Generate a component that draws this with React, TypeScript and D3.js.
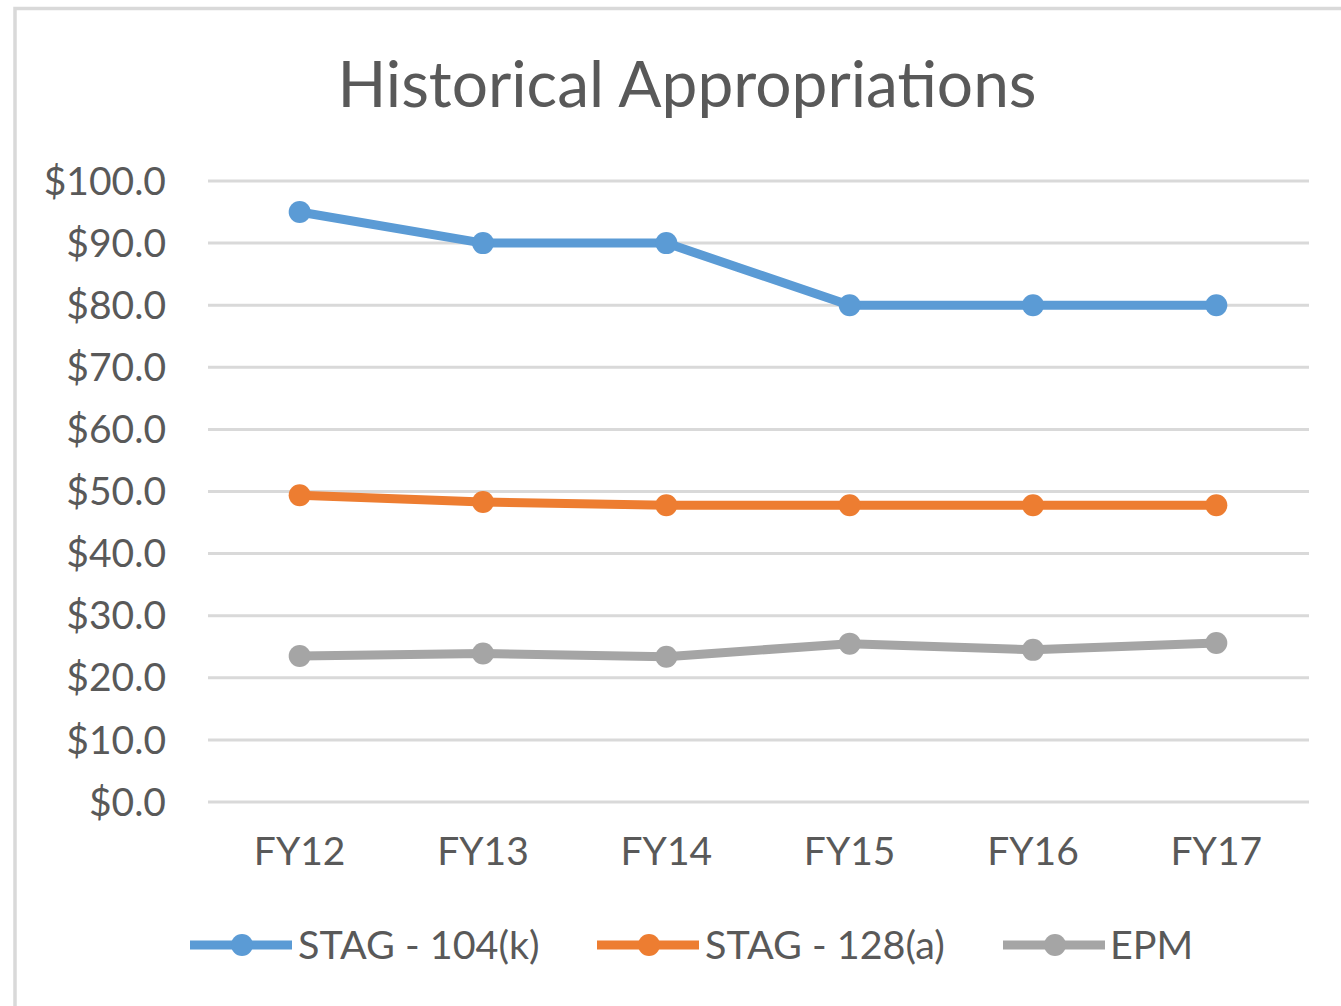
import React from "react";
import * as d3 from "d3";

const categories = ["FY12", "FY13", "FY14", "FY15", "FY16", "FY17"];
const stag104k = [95, 90, 90, 80, 80, 80];
const stag128a = [49.4, 48.3, 47.8, 47.8, 47.8, 47.8];
const epm = [23.5, 23.9, 23.4, 25.5, 24.5, 25.6];
const yTicks = [0, 10, 20, 30, 40, 50, 60, 70, 80, 90, 100];

const seriesList = [
  { name: "STAG - 104(k)", values: stag104k, color: "#5B9BD5" },
  { name: "STAG - 128(a)", values: stag128a, color: "#ED7D31" },
  { name: "EPM", values: epm, color: "#A5A5A5" },
];

const W = 1341;
const H = 1006;
const FONT = "Lato, 'Open Sans', sans-serif";
const TEXT = "#595959";

export default function App() {
  const x = d3.scaleBand<string>().domain(categories).range([208, 1308]);
  const y = d3.scaleLinear().domain([0, 100]).range([802, 181]);
  const cx = (c: string) => (x(c) as number) + x.bandwidth() / 2;
  const line = d3
    .line<number>()
    .x((_, i) => cx(categories[i]))
    .y((d) => y(d));

  const legendItems = [
    { lx: 190, tx: 298 },
    { lx: 597, tx: 705 },
    { lx: 1003, tx: 1110 },
  ];
  const legendY = 945;

  return (
    <svg
      width={W}
      height={H}
      style={{ position: "absolute", left: 0, top: 0, background: "#fff" }}
      fontFamily={FONT}
    >
      <rect x={0} y={0} width={W} height={H} fill="#fff" />
      <rect x={15} y={8.5} width={1500} height={1200} fill="#fff" stroke="#D9D9D9" strokeWidth={3.5} />
      <text x={687} y={107} textAnchor="middle" fontSize={64} fill={TEXT}>
        Historical Appropriations
      </text>
      {yTicks.map((t) => (
        <g key={t}>
          <line x1={208} x2={1309} y1={y(t)} y2={y(t)} stroke="#D9D9D9" strokeWidth={3} />
          <text x={166} y={y(t)} dy="0.35em" textAnchor="end" fontSize={39} fill={TEXT}>
            {"$" + t.toFixed(1)}
          </text>
        </g>
      ))}
      {categories.map((c) => (
        <text key={c} x={cx(c)} y={865} textAnchor="middle" fontSize={39} fill={TEXT}>
          {c}
        </text>
      ))}
      {seriesList.map((s) => (
        <g key={s.name}>
          <path d={line(s.values) || ""} fill="none" stroke={s.color} strokeWidth={9} strokeLinejoin="round" />
          {s.values.map((v, i) => (
            <circle key={i} cx={cx(categories[i])} cy={y(v)} r={11} fill={s.color} />
          ))}
        </g>
      ))}
      {seriesList.map((s, i) => {
        const L = legendItems[i];
        return (
          <g key={s.name}>
            <line x1={L.lx} x2={L.lx + 102} y1={legendY} y2={legendY} stroke={s.color} strokeWidth={9} />
            <circle cx={L.lx + 52} cy={legendY} r={11} fill={s.color} />
            <text x={L.tx} y={legendY} dy="0.35em" fontSize={39.5} fill={TEXT}>
              {s.name}
            </text>
          </g>
        );
      })}
    </svg>
  );
}
